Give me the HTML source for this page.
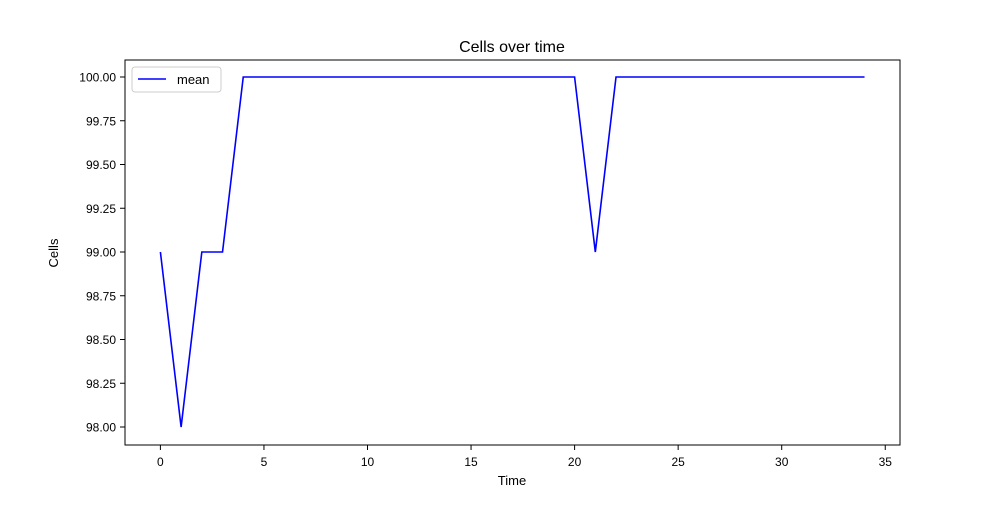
<!DOCTYPE html>
<html><head><meta charset="utf-8"><style>
body{margin:0;background:#fff;}
svg{font-family:"Liberation Sans","DejaVu Sans",sans-serif;}
</style></head><body>
<svg width="1000" height="500" id="chart">
<rect x="0" y="0" width="1000" height="500" fill="#fff"/>
<text x="512" y="52" text-anchor="middle" font-size="16">Cells over time</text>
<g id="xt"></g><g id="yt"></g>
<polyline id="line" fill="none" stroke="#0000ff" stroke-width="1.6"/>
<rect x="125" y="60" width="775" height="385" fill="none" stroke="#000" stroke-width="1"/>
<text x="512" y="485" text-anchor="middle" font-size="13">Time</text>
<text x="58" y="253" text-anchor="middle" font-size="13" transform="rotate(-90 58 253)">Cells</text>
<g>
<rect x="132" y="67" width="89" height="25" rx="3" fill="#fff" stroke="#ccc"/>
<line x1="138" y1="79" x2="166" y2="79" stroke="#0000ff" stroke-width="1.6"/>
<text x="177" y="84" font-size="13">mean</text>
</g>
</svg>
<script>
const times=[0,1,2,3,4,5,6,7,8,9,10,11,12,13,14,15,16,17,18,19,20,21,22,23,24,25,26,27,28,29,30,31,32,33,34];
const meanValues=[99,98,99,99,100,100,100,100,100,100,100,100,100,100,100,100,100,100,100,100,100,99,100,100,100,100,100,100,100,100,100,100,100,100,100];
const xTicks=[0,5,10,15,20,25,30,35];
const yTicks=[98.00,98.25,98.50,98.75,99.00,99.25,99.50,99.75,100.00];
const ns="http://www.w3.org/2000/svg";
const xs=v=>160.4+v*20.71;
const ys=v=>427-(v-98)*175;
document.getElementById('line').setAttribute('points',times.map((t,i)=>xs(t)+','+ys(meanValues[i])).join(' '));
const xt=document.getElementById('xt');
xTicks.forEach(t=>{
 const l=document.createElementNS(ns,'line');
 l.setAttribute('x1',xs(t));l.setAttribute('x2',xs(t));l.setAttribute('y1',445);l.setAttribute('y2',450);l.setAttribute('stroke','#000');
 
 
 xt.appendChild(l);
 const tx=document.createElementNS(ns,'text');
 tx.setAttribute('x',xs(t));tx.setAttribute('y',466);tx.setAttribute('text-anchor','middle');tx.setAttribute('font-size','12');
 tx.textContent=t;
 
 
 xt.appendChild(tx);
});
const yt=document.getElementById('yt');
yTicks.forEach(t=>{
 const l=document.createElementNS(ns,'line');
 l.setAttribute('x1',120);l.setAttribute('x2',125);l.setAttribute('y1',ys(t));l.setAttribute('y2',ys(t));l.setAttribute('stroke','#000');
 
 
 yt.appendChild(l);
 const tx=document.createElementNS(ns,'text');
 tx.setAttribute('x',116);tx.setAttribute('y',ys(t)+4.5);tx.setAttribute('text-anchor','end');tx.setAttribute('font-size','12');
 tx.textContent=t.toFixed(2);
 
 
 yt.appendChild(tx);
});
</script>
</body></html>
